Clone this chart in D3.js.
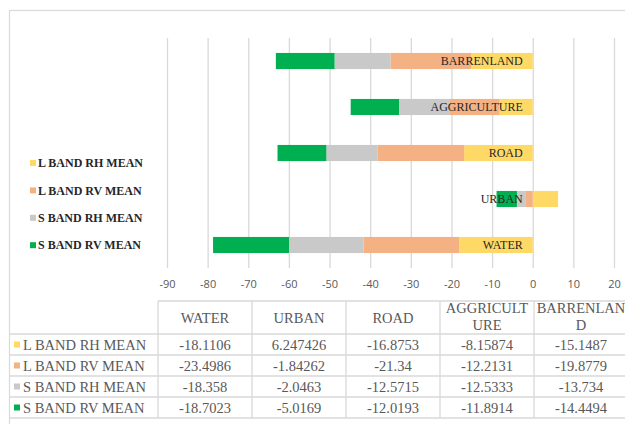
<!DOCTYPE html>
<html>
<head>
<meta charset="utf-8">
<script src="https://cdn.jsdelivr.net/npm/d3@7"></script>
<style>
  html, body { margin: 0; padding: 0; background: #fff; }
  svg { display: block; }
</style>
</head>
<body>
<svg id="chart" width="625" height="424"></svg>
<script>
// Land-cover classes, bottom bar first
const categories = ["WATER", "URBAN", "ROAD", "AGGRICULTURE", "BARRENLAND"];
const seriesNames = ["L BAND RH MEAN", "L BAND RV MEAN", "S BAND RH MEAN", "S BAND RV MEAN"];

// Mean backscatter per class (dB)
const lBandRh = [-18.1106, 6.247426, -16.8753, -8.15874, -15.1487];
const lBandRv = [-23.4986, -1.84262, -21.34, -12.2131, -19.8779];
const sBandRh = [-18.358, -2.0463, -12.5715, -12.5333, -13.734];
const sBandRv = [-18.7023, -5.0169, -12.0193, -11.8914, -14.4494];

const xTicks = [-90, -80, -70, -60, -50, -40, -30, -20, -10, 0, 10, 20];
const seriesColors = ["#FFD966", "#F4B183", "#C9C9C9", "#00B050"];

const seriesValues = [lBandRh, lBandRv, sBandRh, sBandRv];
const rows = categories.map((c, i) => {
  const r = { category: c };
  seriesNames.forEach((s, j) => { r[s] = seriesValues[j][i]; });
  return r;
});

const svg = d3.select("#chart");
const gridColor = "#D9D9D9";
const serif = "'Liberation Serif', 'Times New Roman', serif";

// outer chart frame
svg.append("rect")
  .attr("x", 9.5).attr("y", 10.5)
  .attr("width", 640).attr("height", 440)
  .attr("fill", "#fff").attr("stroke", gridColor).attr("stroke-width", 1.2);

const plot = { left: 167, right: 614, top: 38, bottom: 268 };

const x = d3.scaleLinear().domain([-90, 20]).range([plot.left, plot.right]);
const y = d3.scaleBand()
  .domain(categories.slice().reverse())
  .range([plot.top, plot.bottom])
  .padding(0);
const barH = y.bandwidth() * 0.35;

// vertical gridlines and value labels
const axis = d3.axisBottom(x)
  .tickValues(xTicks)
  .tickSizeInner(-(plot.bottom - plot.top))
  .tickSizeOuter(0)
  .tickPadding(12)
  .tickFormat(d => String(d));

const gAxis = svg.append("g")
  .attr("transform", `translate(0,${plot.bottom})`)
  .call(axis);
gAxis.select(".domain").remove();
gAxis.selectAll(".tick line").attr("stroke", gridColor).attr("stroke-width", 1.3);
gAxis.selectAll(".tick text")
  .attr("fill", "#595959")
  .style("font-family", "'Open Sans', 'Liberation Sans', sans-serif")
  .style("font-size", "11px");

// diverging stack: negatives run left from zero in series order
const stack = d3.stack().keys(seriesNames).offset(d3.stackOffsetDiverging);
const layers = stack(rows);

svg.append("g").selectAll("g")
  .data(layers)
  .join("g")
  .attr("fill", (d, i) => seriesColors[i])
  .selectAll("rect")
  .data(d => d)
  .join("rect")
  .attr("x", d => x(Math.min(d[0], d[1])))
  .attr("width", d => Math.abs(x(d[1]) - x(d[0])))
  .attr("y", d => y(d.data.category) + (y.bandwidth() - barH) / 2)
  .attr("height", barH);

// category names beside the zero line
svg.append("g").selectAll("text")
  .data(categories)
  .join("text")
  .attr("x", x(0) - 10)
  .attr("y", d => y(d) + y.bandwidth() / 2)
  .attr("dy", "0.36em")
  .attr("text-anchor", "end")
  .attr("fill", "#262626")
  .style("font-family", serif)
  .style("font-size", "12px")
  .text(d => d);

// legend
const legend = svg.append("g").selectAll("g")
  .data(seriesNames)
  .join("g")
  .attr("transform", (d, i) => `translate(30,${163 + i * 27.4})`);
legend.append("rect")
  .attr("x", 0).attr("y", -3).attr("width", 6).attr("height", 6)
  .attr("fill", (d, i) => seriesColors[i]);
legend.append("text")
  .attr("x", 8).attr("dy", "0.35em")
  .attr("fill", "#262626")
  .style("font-family", serif)
  .style("font-size", "12px")
  .style("font-weight", "bold")
  .text(d => d);

// data table under the axis
const table = { top: 301, headerBottom: 334, rowH: 21, labelLeft: 9, firstCol: 158, colW: 94 };
const colX = i => table.firstCol + i * table.colW;
const tableBottom = table.headerBottom + seriesNames.length * table.rowH;
const gT = svg.append("g");
const line = (x1, y1, x2, y2) => gT.append("line")
  .attr("x1", x1).attr("y1", y1).attr("x2", x2).attr("y2", y2)
  .attr("stroke", gridColor).attr("stroke-width", 1.3);

line(table.firstCol, table.top, 640, table.top);
d3.range(seriesNames.length + 1).forEach(i => {
  const yy = table.headerBottom + i * table.rowH;
  line(table.labelLeft, yy, 640, yy);
});
d3.range(categories.length + 1).forEach(i => {
  line(colX(i), table.top, colX(i), tableBottom);
});

const tableFont = "14.5px";
const tableColor = "#595959";

// headers, broken by character when too wide for a cell
categories.forEach((c, i) => {
  const t = gT.append("text")
    .attr("text-anchor", "middle")
    .attr("fill", tableColor)
    .style("font-family", serif)
    .style("font-size", tableFont);
  const maxW = table.colW - 4;
  const lines = [];
  let cur = "";
  const probe = t.append("tspan");
  for (const ch of c) {
    probe.text(cur + ch);
    if (probe.node().getComputedTextLength() > maxW && cur) {
      lines.push(cur);
      cur = ch;
    } else {
      cur += ch;
    }
  }
  lines.push(cur);
  probe.remove();
  const cx = colX(i) + table.colW / 2;
  const mid = (table.top + table.headerBottom) / 2 - (lines.length > 1 ? 1 : 0);
  const lh = 16.5;
  lines.forEach((l, k) => {
    t.append("tspan")
      .attr("x", cx)
      .attr("y", mid + (k - (lines.length - 1) / 2) * lh)
      .attr("dy", "0.35em")
      .text(l);
  });
});

// series rows
seriesNames.forEach((s, r) => {
  const cy = table.headerBottom + r * table.rowH + table.rowH / 2;
  gT.append("rect")
    .attr("x", 14).attr("y", cy - 3).attr("width", 6).attr("height", 6)
    .attr("fill", seriesColors[r]);
  gT.append("text")
    .attr("x", 23).attr("y", cy).attr("dy", "0.35em")
    .attr("fill", tableColor)
    .style("font-family", serif)
    .style("font-size", tableFont)
    .text(s);
  seriesValues[r].forEach((v, i) => {
    gT.append("text")
      .attr("x", colX(i) + table.colW / 2).attr("y", cy).attr("dy", "0.35em")
      .attr("text-anchor", "middle")
      .attr("fill", tableColor)
      .style("font-family", serif)
      .style("font-size", tableFont)
      .text(String(v));
  });
});
</script>
</body>
</html>
